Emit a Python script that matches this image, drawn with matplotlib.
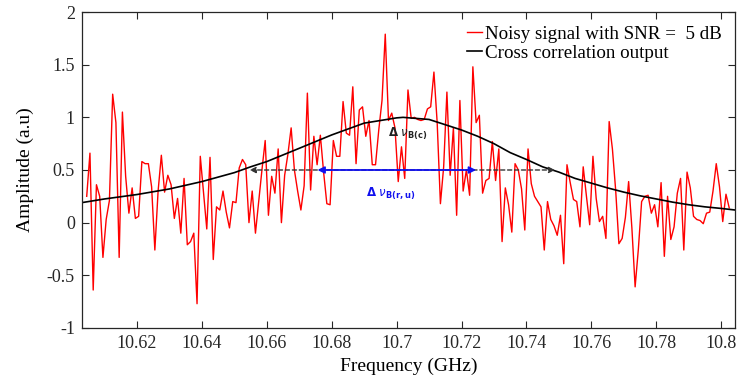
import numpy as np
import matplotlib
matplotlib.use('Agg')
import matplotlib.pyplot as plt

plt.rcParams['font.family'] = ['Liberation Serif', 'DejaVu Serif']
plt.rcParams['axes.unicode_minus'] = False
plt.rcParams['mathtext.fontset'] = 'dejavusans'

# noisy signal, one sample per MHz
f_start = 10.6045
f_step = 0.001
noisy = [
    0.25, 0.66, -0.64, 0.36, 0.25, -0.33, 0.03, 0.21, 1.22, 0.95,
    -0.33, 1.05, 0.44, 0.09, 0.33, 0.04, 0.06, 0.58, 0.56, 0.56,
    0.34, -0.26, 0.30, 0.64, 0.29, 0.45, 0.36, 0.04, 0.23, -0.10,
    0.42, -0.21, -0.18, -0.10, -0.77, 0.63, 0.28, -0.06, 0.62, -0.35,
    0.15, 0.12, 0.30, 0.10, -0.05, 0.20, 0.19, 0.52, 0.60, 0.55,
    0.00, 0.30, -0.10, 0.20, 0.50, 0.78, 0.07, 0.44, 0.28, 0.70,
    0.00, 0.45, 0.65, 0.90, 0.50, 0.30, 0.12, 0.35, 1.23, 0.31,
    0.82, 0.55, 0.83, 0.48, 0.18, 0.17, 0.78, 0.63, 0.63, 1.15,
    0.85, 0.83, 1.29, 0.56, 1.07, 1.10, 0.82, 0.97, 0.55, 0.55,
    0.88, 1.16, 1.79, 0.97, 1.04, 0.90, 0.39, 0.72, 0.42, 1.26,
    0.99, 1.00, 0.98, 0.97, 0.98, 1.08, 1.10, 1.43, 0.95, 0.18,
    0.53, 1.24, 0.45, 0.90, 0.07, 1.16, 0.30, 0.50, 0.26, 1.48,
    0.95, 1.02, 0.28, 0.40, 0.42, 0.77, 0.40, 0.70, -0.18, 0.33,
    0.17, -0.09, 0.56, 0.50, 0.32, -0.07, 0.70, 0.37, 0.25, 0.20,
    0.15, -0.26, 0.20, 0.03, -0.03, -0.12, 0.07, -0.39, 0.55, 0.38,
    0.22, 0.20, -0.04, 0.53, 0.25, -0.02, 0.63, 0.23, 0.01, 0.06,
    -0.15, 0.96, 0.70, 0.31, -0.20, -0.15, 0.05, 0.39, -0.05, -0.61,
    -0.25, 0.20, 0.25, 0.26, 0.09, 0.17, -0.04, 0.38, -0.32, 0.25,
    -0.16, -0.04, 0.28, 0.42, -0.26, 0.48, 0.33, 0.06, 0.03, 0.02,
    -0.01, 0.09, 0.10, 0.30, 0.56, 0.34, 0.01, 0.27, 0.14,
]
f_noisy = f_start + f_step * np.arange(len(noisy))

# cross correlation output
f_xcorr = [10.603, 10.610, 10.620, 10.630, 10.640, 10.650, 10.655, 10.660,
           10.670, 10.680, 10.690, 10.700, 10.702, 10.710, 10.715, 10.720,
           10.725, 10.730, 10.735, 10.740, 10.745, 10.750, 10.755, 10.760,
           10.765, 10.770, 10.775, 10.780, 10.785, 10.790, 10.795, 10.800,
           10.8043]
xcorr = [0.19, 0.225, 0.267, 0.32, 0.39, 0.475, 0.53, 0.58,
         0.706, 0.833, 0.945, 0.995, 1.0, 0.98, 0.93, 0.88,
         0.82, 0.75, 0.665, 0.60, 0.53, 0.48, 0.42, 0.375,
         0.33, 0.29, 0.255, 0.225, 0.195, 0.17, 0.15, 0.135,
         0.12]

# linewidth markers
fwhm_c = (10.6547, 10.7488)
fwhm_ru = (10.6756, 10.7245)
half_level = 0.5

fig = plt.figure(figsize=(7.44, 3.89), dpi=100)
ax = fig.add_axes([0.110, 0.157, 0.878, 0.812])

ax.plot(f_noisy, noisy, color='#ff0000', lw=1.0, label='Noisy signal with SNR =  5 dB')
ax.plot(f_xcorr, xcorr, color='black', lw=1.2, label='Cross correlation output')

# black dashed double arrow (cross correlation width)
ax.annotate('', xy=(fwhm_c[0], half_level), xytext=(fwhm_c[1], half_level),
            arrowprops=dict(arrowstyle='<|-|>', color='#333333', lw=1.0,
                            linestyle=(0, (3, 2)), mutation_scale=9,
                            shrinkA=0, shrinkB=0))
# blue double arrow (noisy width)
ax.annotate('', xy=(fwhm_ru[0], half_level), xytext=(fwhm_ru[1], half_level),
            arrowprops=dict(arrowstyle='<|-|>', color='#1010ee', lw=1.3,
                            mutation_scale=10, shrinkA=0, shrinkB=0))

ax.text(10.6975, 0.84, r'$\mathbf{\Delta}\ \nu_{\mathbf{B(c)}}$', color='#222222',
        fontsize=8.5, va='center', ha='left')
ax.text(10.6905, 0.28, r'$\mathbf{\Delta}\ \nu_{\mathbf{B(r,u)}}$', color='#1010ee',
        fontsize=8.5, va='center', ha='left')

ax.set_xlim(10.603, 10.8043)
ax.set_ylim(-1, 2)
xt = [10.62, 10.64, 10.66, 10.68, 10.70, 10.72, 10.74, 10.76, 10.78, 10.80]
ax.set_xticks(xt)
ax.set_xticklabels(['10.62', '10.64', '10.66', '10.68', '10.7', '10.72',
                    '10.74', '10.76', '10.78', '10.8'])
ax.set_yticks([-1, -0.5, 0, 0.5, 1, 1.5, 2])
ax.set_yticklabels(['-1', '-0.5', '0', '0.5', '1', '1.5', '2'])
ax.tick_params(direction='in', top=True, right=True, labelsize=13,
               length=5, width=0.8, colors='#262626', pad=5)
for s in ax.spines.values():
    s.set_color('#262626')
    s.set_linewidth(0.9)

ax.set_xlabel('Frequency (GHz)', fontsize=14, labelpad=4)
ax.set_ylabel('Amplitude (a.u)', fontsize=14, labelpad=9)

ax.legend(loc='upper right', frameon=False, fontsize=13.7, handlelength=0.8,
          handletextpad=0.15, labelspacing=0.1, borderaxespad=0.3)

fig.savefig('out.png', dpi=100)
